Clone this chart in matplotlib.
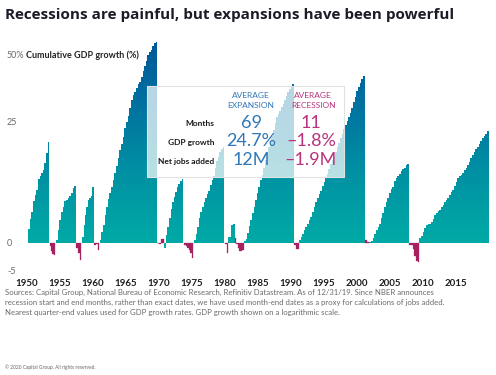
import numpy as np
import matplotlib
matplotlib.use('Agg')
import matplotlib.pyplot as plt
from matplotlib.path import Path
from matplotlib.colors import LinearSegmentedColormap
from matplotlib.patches import Rectangle

plt.rcParams['font.family'] = ['Lato', 'DejaVu Sans']

# ---------------- data ----------------
title = "Recessions are painful, but expansions have been powerful"
year_ticks = [1950, 1955, 1960, 1965, 1970, 1975, 1980, 1985, 1990, 1995, 2000, 2005, 2010, 2015]
y_ticks = [-5, 0, 25]
y_tick_labels = ["-5", "0", "25"]

exp_start = [1950.3, 1954.5, 1958.45, 1961.1, 1970.9, 1975.4, 1980.6, 1982.95, 1991.25, 2001.9, 2009.5]
exp_end = [1953.5, 1957.55, 1960.2, 1969.85, 1973.75, 1979.95, 1981.55, 1990.5, 2001.2, 2007.9, 2019.95]

gdp_exp_1950 = [2.6, 4.5, 5.9, 7.9, 9.2, 10.2, 12.4, 13.0, 13.8, 14.4, 15.8, 18.0, 20.5]
gdp_exp_1954 = [0.5, 2.4, 4.3, 5.9, 6.9, 7.9, 8.2, 8.5, 8.9, 9.5, 10.6, 11.0]
gdp_exp_1958 = [1.0, 3.3, 5.2, 6.9, 8.2, 8.5, 8.9, 10.9]
gdp_exp_1961 = [0.5, 1.9, 3.3, 5.2, 6.9, 8.3, 9.5, 10.9, 12.3, 13.7, 15.2, 16.9, 18.7, 19.9,
                21.6, 23.5, 25.0, 26.4, 28.1, 30.2, 31.2, 32.0, 33.0, 34.0, 34.6, 35.7, 37.3,
                38.6, 39.9, 41.4, 42.1, 42.7, 43.8, 44.5, 44.9]
gdp_exp_1970 = [-1.0, 1.4, 3.0, 4.6, 6.4, 7.7, 8.7, 9.7, 10.8, 11.4, 12.1, 12.4]
gdp_exp_1975 = [0.5, 1.6, 3.0, 4.6, 5.9, 6.9, 7.7, 8.6, 9.3, 10.1, 11.3, 12.2, 13.1, 14.7,
                16.3, 17.2, 18.3, 18.9, 19.3]
gdp_exp_1980 = [1.0, 3.3, 3.5]
gdp_exp_1982 = [0.3, 0.7, 1.8, 3.2, 4.3, 5.6, 6.8, 8.2, 9.5, 10.9, 12.3, 13.3, 14.7, 16.5,
                17.9, 19.3, 20.6, 21.7, 23.1, 24.7, 26.0, 26.8, 27.6, 28.4, 29.2, 30.0, 31.0,
                32.0, 32.8, 33.4, 34.0]
gdp_exp_1991 = [0.5, 1.1, 1.7, 2.4, 3.0, 3.6, 4.2, 4.9, 5.8, 6.9, 7.7, 8.5, 9.3, 10.1, 11.0,
                11.9, 12.8, 13.6, 14.6, 15.7, 16.5, 17.4, 18.3, 19.2, 20.2, 21.4, 22.3, 23.3,
                24.2, 25.1, 26.0, 27.0, 28.3, 29.7, 30.9, 32.2, 33.3, 34.3, 35.3, 36.1]
gdp_exp_2001 = [0.2, 0.4, 0.8, 1.7, 2.4, 3.0, 3.5, 4.6, 5.6, 6.9, 7.7, 8.6, 9.6, 10.4, 10.9,
                12.0, 12.7, 13.1, 13.6, 14.1, 14.5, 14.8, 15.3, 15.6]
gdp_exp_2009 = [0.8, 1.2, 2.0, 2.7, 3.3, 3.5, 3.6, 3.9, 4.5, 5.2, 5.7, 6.1, 6.3, 6.8, 7.2,
                7.7, 8.2, 8.6, 9.2, 9.7, 10.3, 11.0, 11.8, 12.7, 13.1, 13.4, 13.8, 14.3, 14.8,
                15.3, 16.0, 16.8, 17.6, 18.3, 18.8, 19.4, 20.0, 20.6, 21.2, 21.7, 22.2, 22.8]

rec_start = [1953.55, 1957.6, 1960.3, 1969.85, 1973.9, 1980.05, 1981.55, 1990.55, 2001.25, 2007.95]
rec_end = [1954.35, 1958.3, 1961.05, 1970.85, 1975.3, 1980.6, 1982.95, 1991.2, 2001.9, 2009.5]

gdp_rec_1953 = [-0.6, -1.5, -2.0, -2.3]
gdp_rec_1957 = [-0.9, -1.8, -3.2]
gdp_rec_1960 = [-0.4, -0.3, -1.3]
gdp_rec_1969 = [-0.1, -0.2, 0.6, 0.6]
gdp_rec_1973 = [-0.4, -0.6, -1.0, -1.3, -1.9, -2.7]
gdp_rec_1980 = [-0.2, -1.8]
gdp_rec_1981 = [0.9, -0.3, -1.0, -1.5, -1.6, -1.4]
gdp_rec_1990 = [-0.4, -1.2]
gdp_rec_2001 = [0.5, 0.2]
gdp_rec_2007 = [-0.4, -0.5, -1.2, -2.5, -3.3, -3.5]

table_rows = ["Months", "GDP growth", "Net jobs added"]
expansion_avg = ["69", "24.7%", "12M"]
recession_avg = ["11", "\u20131.8%", "\u20131.9M"]

expansions = [gdp_exp_1950, gdp_exp_1954, gdp_exp_1958, gdp_exp_1961, gdp_exp_1970, gdp_exp_1975,
              gdp_exp_1980, gdp_exp_1982, gdp_exp_1991, gdp_exp_2001, gdp_exp_2009]
recessions = [gdp_rec_1953, gdp_rec_1957, gdp_rec_1960, gdp_rec_1969, gdp_rec_1973, gdp_rec_1980,
              gdp_rec_1981, gdp_rec_1990, gdp_rec_2001, gdp_rec_2007]

# ---------------- figure ----------------
W, H = 496, 375
fig = plt.figure(figsize=(W / 100, H / 100), dpi=100)
fx = lambda x: x / W
fy = lambda y: 1 - y / H

ax_l, ax_r, ax_t, ax_b = 20, 492, 36, 272
ax = fig.add_axes([fx(ax_l), fy(ax_b), (ax_r - ax_l) / W, (ax_b - ax_t) / H])
ax.set_yscale('function', functions=(lambda v: np.log1p(np.asarray(v) / 100.0),
                                     lambda t: np.expm1(np.asarray(t)) * 100.0))
for s in ax.spines.values():
    s.set_visible(False)


def step_xy(start, end, vals):
    edges = np.linspace(start, end, len(vals) + 1)
    return edges, np.append(vals, vals[-1])


paths = []
for s, e, v in zip(exp_start, exp_end, expansions):
    x, y = step_xy(s, e, v)
    pc = ax.fill_between(x, 0, y, step='post', facecolor='none', edgecolor='none', lw=0)
    paths.extend(pc.get_paths())

for s, e, v in zip(rec_start, rec_end, recessions):
    x, y = step_xy(s, e, v)
    ax.fill_between(x, 0, y, step='post', facecolor='#a6215f', edgecolor='#a6215f', lw=0.2, zorder=2)

xlim = (1950 + (ax_l - 26.2) / 6.61, 1950 + (ax_r - 26.2) / 6.61)
ylim = (-5.26, 46.4)

# gradient fill for expansions (teal at zero -> dark blue at top)
cmap = LinearSegmentedColormap.from_list('exp', ['#00aaa6', '#0092a3', '#0074a0', '#00589a'])
f0 = (ax_b - 242.7) / (ax_b - ax_t)
f1 = (ax_b - 42) / (ax_b - ax_t)
fr = np.linspace(0, 1, 400)
g = np.clip((fr - f0) / (f1 - f0), 0, 1)[:, None]
im = ax.imshow(g, extent=[0, 1, 0, 1], transform=ax.transAxes, origin='lower',
               aspect='auto', cmap=cmap, vmin=0, vmax=1, zorder=1, interpolation='bilinear')
clip = Path.make_compound_path(*paths)
im.set_clip_path(clip, transform=ax.transData)

ax.set_xlim(*xlim)
ax.set_ylim(*ylim)

ax.set_xticks(year_ticks)
ax.set_xticklabels([str(t) for t in year_ticks], fontsize=7, fontweight='bold', color='#1e1e1e')
ax.tick_params(axis='x', length=0, pad=5)
ax.set_yticks(y_ticks)
ax.set_yticklabels(y_tick_labels, fontsize=6.5, color='#6a6a6a')
ax.tick_params(axis='y', length=0, pad=9.4)
for lbl in ax.get_yticklabels():
    lbl.set_ha('left')

# summary box
bx0, bx1, by0, by1 = 147, 344, 86, 177
ax.add_patch(Rectangle((fx(bx0), fy(by1)), (bx1 - bx0) / W, (by1 - by0) / H,
                       transform=fig.transFigure, facecolor='white', alpha=0.72,
                       edgecolor='none', zorder=4))
ax.add_patch(Rectangle((fx(bx0), fy(by1)), (bx1 - bx0) / W, (by1 - by0) / H,
                       transform=fig.transFigure, facecolor='none',
                       edgecolor='#e2e2e2', lw=0.8, zorder=5))

blue = '#2f77b8'
mag = '#b8337c'
fig.text(fx(251), fy(96), "AVERAGE", color=blue, fontsize=6, ha='center', va='center', zorder=6)
fig.text(fx(251), fy(106), "EXPANSION", color=blue, fontsize=6, ha='center', va='center', zorder=6)
fig.text(fx(313), fy(96), "AVERAGE", color=mag, fontsize=6, ha='center', va='center', zorder=6)
fig.text(fx(313), fy(106), "RECESSION", color=mag, fontsize=6, ha='center', va='center', zorder=6)
row_y = [123, 143, 161.5]
val_y = [122.5, 141.5, 160]
for lab, yy in zip(table_rows, row_y):
    fig.text(fx(214), fy(yy), lab, color='#1a1a1a', fontsize=6, fontweight='bold',
             ha='right', va='center', zorder=6)
for val, yy in zip(expansion_avg, val_y):
    fig.text(fx(251.5), fy(yy), val, color=blue, fontsize=13, fontweight='normal',
             ha='center', va='center', zorder=6)
for val, yy in zip(recession_avg, val_y):
    fig.text(fx(311), fy(yy), val, color=mag, fontsize=13, fontweight='normal',
             ha='center', va='center', zorder=6)

# titles and notes
fig.text(fx(5), fy(15), title, fontsize=11, fontweight='bold', color='#1c1c28',
         ha='left', va='center', family=['Open Sans', 'DejaVu Sans'])
fig.text(fx(7), fy(55), "50%", fontsize=6.5, color='#6a6a6a', ha='left', va='center')
fig.text(fx(25.5), fy(55), "Cumulative GDP growth (%)", fontsize=6.5, fontweight='bold',
         color='#222222', ha='left', va='center')

notes = ["Sources: Capital Group, National Bureau of Economic Research, Refinitiv Datastream. As of 12/31/19. Since NBER announces",
         "recession start and end months, rather than exact dates, we have used month-end dates as a proxy for calculations of jobs added.",
         "Nearest quarter-end values used for GDP growth rates. GDP growth shown on a logarithmic scale."]
for i, line in enumerate(notes):
    fig.text(fx(5), fy(292.7 + 9.8 * i), line, fontsize=5.6, color='#6a6a6a', ha='left', va='center')
fig.text(fx(5), fy(367.5), "\u00a9 2020 Capital Group. All rights reserved.", fontsize=3.5,
         color='#666666', ha='left', va='center')

fig.savefig('out.png', dpi=100)
